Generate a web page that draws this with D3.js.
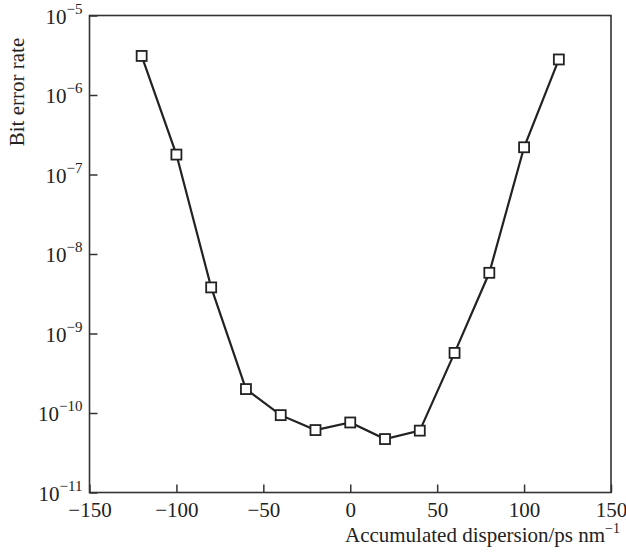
<!DOCTYPE html>
<html><head><meta charset="utf-8">
<script src="https://cdn.jsdelivr.net/npm/d3@7"></script>
<style>body{margin:0;background:#fff}svg{display:block}text{font-family:"Liberation Serif","Times New Roman",serif;fill:#222}</style>
</head><body><svg id="c" width="626" height="560"></svg>
<script>
const dispersion = [-120, -100, -80, -60, -40, -20, 0, 20, 40, 60, 80, 100, 120];
const ber = [3.1e-6, 1.78e-7, 3.8e-9, 2.0e-10, 9.4e-11, 6.1e-11, 7.6e-11, 4.7e-11, 6.0e-11, 5.7e-10, 5.8e-9, 2.2e-7, 2.8e-6];
const xTicks = [-150, -100, -50, 0, 50, 100, 150];
const yExponents = [-11, -10, -9, -8, -7, -6, -5];
const xTitle = "Accumulated dispersion/ps nm";
const yTitle = "Bit error rate";

const L = 89.5, R = 611, T = 15.5, B = 492.5;
const svg = d3.select("#c");
const x = d3.scaleLinear().domain([-150, 150]).range([L, R]);
const y = d3.scaleLog().domain([1e-11, 1e-5]).range([B, T]);

// frame
svg.append("rect").attr("x", L).attr("y", T).attr("width", R - L).attr("height", B - T)
  .attr("fill", "none").attr("stroke", "#333").attr("stroke-width", 1.6);

const xAxis = svg.append("g").attr("transform", `translate(0,${B})`)
  .call(d3.axisBottom(x).tickValues(xTicks).tickSizeInner(-8).tickSizeOuter(0).tickPadding(0)
    .tickFormat(d => d < 0 ? "\u2212" + Math.abs(d) : String(d)));
xAxis.select(".domain").remove();
xAxis.selectAll("line").attr("stroke", "#333").attr("stroke-width", 1.5);
xAxis.selectAll("text").attr("font-size", 21).attr("fill", "#222").attr("dy", null).attr("y", 24)
  .attr("font-family", '"Liberation Serif",serif');

const yAxis = svg.append("g").attr("transform", `translate(${L},0)`)
  .call(d3.axisLeft(y).tickValues(yExponents.map(e => Math.pow(10, e))).tickSizeInner(-8).tickSizeOuter(0).tickPadding(0)
    .tickFormat(() => ""));
yAxis.select(".domain").remove();
yAxis.selectAll("line").attr("stroke", "#333").attr("stroke-width", 1.5);
yAxis.selectAll(".tick").each(function(d, i) {
  const t = d3.select(this).select("text");
  t.attr("x", -7).attr("dy", null).attr("y", 7.5).attr("font-size", 21).attr("text-anchor", "end")
   .attr("font-family", '"Liberation Serif",serif').attr("fill", "#222");
  t.append("tspan").text("10");
  t.append("tspan").attr("font-size", 15).attr("dy", -10).text("\u2212" + Math.abs(yExponents[i]));
});

// line
const pts = dispersion.map((d, i) => [d, ber[i]]);
svg.append("path").datum(pts)
  .attr("d", d3.line().x(d => x(d[0])).y(d => y(d[1])))
  .attr("fill", "none").attr("stroke", "#222").attr("stroke-width", 2.2);

const s = 10;
svg.selectAll("rect.m").data(pts).join("rect").attr("class", "m")
  .attr("x", d => x(d[0]) - s / 2).attr("y", d => y(d[1]) - s / 2)
  .attr("width", s).attr("height", s)
  .attr("fill", "#fff").attr("stroke", "#222").attr("stroke-width", 1.8);

// titles
const xt = svg.append("text").attr("x", 620).attr("y", 542).attr("text-anchor", "end").attr("font-size", 21);
xt.append("tspan").text(xTitle);
xt.append("tspan").attr("font-size", 14).attr("dy", -9).text("\u22121");

svg.append("text").attr("transform", "translate(24,92) rotate(-90)").attr("text-anchor", "middle")
  .attr("font-size", 21).text(yTitle);
</script></body></html>
